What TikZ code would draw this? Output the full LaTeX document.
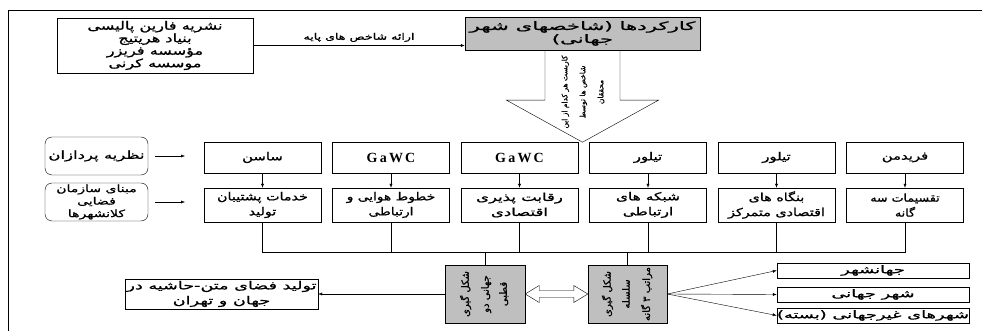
\documentclass[tikz,border=0pt]{standalone}
\usepackage{fontspec}
\usepackage{graphicx}
\usetikzlibrary{positioning,calc,arrows.meta}
\setmainfont{DejaVu Sans}
\newfontfamily\arabicfont[Script=Arabic, FakeBold=0.8]{DejaVu Sans}
\newfontfamily\gawcfont[LetterSpace=16]{Liberation Serif}
\TeXXeTstate=1
\newcommand{\fa}[2][1.35]{\hbox{\scalebox{#1}[1]{\beginR #2\endR}}}

\begin{document}
\begin{tikzpicture}[x=1pt, y=-1pt, >={Latex[length=4pt,width=3pt]},
    node distance=128.5pt, on grid,
    font=\arabicfont\fontsize{11}{15}\selectfont,
    pbox/.style={draw, align=center, inner sep=1pt},
    thbox/.style={pbox, minimum width=117pt, minimum height=31pt},
    fnbox/.style={pbox, minimum width=117pt, minimum height=34pt},
    graybox/.style={pbox, fill=gray!50, inner sep=0pt, font=\arabicfont\fontsize{10}{11}\selectfont},
    rbox/.style={pbox, rounded corners=7pt, minimum width=103pt, minimum height=38pt},
    cibox/.style={pbox, inner sep=0pt, minimum width=192pt, minimum height=15pt,
      font=\arabicfont\fontsize{10.5}{12}\selectfont},
    gawc/.style={font=\gawcfont\bfseries\fontsize{14}{16}\selectfont}]
  \useasboundingbox (0,0) rectangle (982,331);
  \draw (8,331) -- (8,10) -- (982,10);%
  \node[pbox, minimum width=196pt, minimum height=55pt, font=\arabicfont\fontsize{11.5}{12.5}\selectfont] (src) at (155,45.5)
    {\fa[1.4]{نشریه فارین پالیسی}\\\fa[1.4]{بنیاد هریتیج}\\\fa[1.4]{مؤسسه فریزر}\\\fa[1.4]{موسسه کرنی}};%
  \node[graybox, minimum width=235pt, minimum height=33pt, inner sep=1pt, font=\arabicfont\fontsize{11.5}{13}\selectfont] (func) at (582.5,33.5)
    {\fa[1.85]{کارکردها (شاخصهای شهر}\\\fa[1.85]{جهانی)}};%
  \path[->] (src.east) edge node[above, font=\arabicfont\fontsize{9}{10}\selectfont]
    {\fa[1.4]{ارائه شاخص های پایه}} (src.east -| func.west);%
  % big arrow down
  \draw ([xshift=-37.5pt]func.south) -- ++(0,50) -- ++(-38.5,0) -- ++(76,42)
    -- ++(76,-42) -- ++(-38.5,0) -- ([xshift=37.5pt]func.south);%
  \node[rotate=90, align=center, font=\arabicfont\fontsize{7.5}{18}\selectfont] (use) at (583,92)
    {\fa[1]{کاربست هر کدام از این}\\\fa[1]{شاخص ها توسط}\\\fa[1]{محققان}};%
  \node[rbox] (theory) at (96.5,156) {\fa[1.5]{نظریه پردازان}};%
  \node[rbox, font=\arabicfont\fontsize{10}{12.5}\selectfont] (basis) at (96.5,202)
    {\fa[1.4]{مبنای سازمان}\\\fa[1.4]{فضایی}\\\fa[1.4]{کلانشهرها}};%
  \coordinate (theoryend) at (185,156);%
  \coordinate (basisend) at (185,202);%
  \draw[->] ([xshift=7pt]theory.east) -- (theoryend);%
  \draw[->] ([xshift=7pt]basis.east) -- (basisend);%
  \node[thbox] (sassen) at (262.5,157.5) {\fa{ساسن}};%
  \node[thbox, gawc] (gawc1) [right=of sassen] {GaWC};%
  \node[thbox, gawc] (gawc2) [right=of gawc1] {GaWC};%
  \node[thbox] (taylor1) [right=of gawc2] {\fa{تیلور}};%
  \node[thbox] (taylor2) [right=of taylor1] {\fa{تیلور}};%
  \node[thbox] (friedmann) [right=of taylor2] {\fa{فریدمن}};%
  \node[fnbox] (service) [below=47.5pt of sassen] {\fa[1.3]{خدمات پشتیبان}\\\fa[1.3]{تولید}};%
  \node[fnbox] (airline) [below=47.5pt of gawc1] {\fa[1.25]{خطوط هوایی و}\\\fa[1.25]{ارتباطی}};%
  \node[fnbox] (compete) [below=47.5pt of gawc2] {\fa[1.5]{رقابت پذیری}\\\fa[1.5]{اقتصادی}};%
  \node[fnbox] (network) [below=47.5pt of taylor1] {\fa[1.4]{شبکه های}\\\fa[1.4]{ارتباطی}};%
  \node[fnbox] (firms) [below=47.5pt of taylor2] {\fa[1.3]{بنگاه های}\\\fa[1.3]{اقتصادی متمرکز}};%
  \node[fnbox] (division) [below=47.5pt of friedmann] {\fa[1.15]{تقسیمات سه}\\\fa[1.15]{گانه}};%
  \path[->] (sassen) edge (service) (gawc1) edge (airline) (gawc2) edge (compete)
    (taylor1) edge (network) (taylor2) edge (firms) (friedmann) edge (division);%
  \coordinate (bus) at (0,252);%
  \draw (service.south) |- (division.south |- bus) -- (division.south);%
  \draw (airline.south) -- (airline.south |- bus) (compete.south) -- (compete.south |- bus)
    (network.south) -- (network.south |- bus) (firms.south) -- (firms.south |- bus);%
  \node[graybox, minimum width=80pt, minimum height=58pt] (bipolar) at (485,294)
    {\rotatebox{90}{\begin{tabular}{@{}c@{}}\fa[1]{شکل گیری}\\[9pt]\fa[1]{جهانی دو}\\[7pt]\fa[1]{قطبی}\end{tabular}}};%
  \node[graybox, minimum width=79pt, minimum height=58pt] (hierarchy) at (627.5,294)
    {\rotatebox{90}{\begin{tabular}{@{}c@{}}\fa[1]{شکل گیری}\\[8pt]\fa[1]{سلسله}\\[8pt]\fa[1]{مراتب ۳ گانه}\end{tabular}}};%
  \draw (bipolar.north) -- (bipolar.north |- bus) (hierarchy.north) -- (hierarchy.north |- bus);%
  % hollow double arrow
  \draw (bipolar.east) -- ++(14,-8.5) -- ++(0,5) -- ($(hierarchy.west)+(-14,-3.5)$) -- ++(0,-5)
    -- (hierarchy.west) -- ++(-14,8.5) -- ++(0,-5) -- ($(bipolar.east)+(14,3.5)$) -- ++(0,5) -- cycle;%
  \node[pbox, minimum width=193pt, minimum height=30pt] (space) at (221.5,294)
    {\fa[1.6]{تولید فضای متن-حاشیه در}\\\fa[1.6]{جهان و تهران}};%
  \path[->] (bipolar) edge (space);%
  \node[cibox] (global) at (873,270.5) {\fa[1.7]{جهانشهر}};%
  \node[cibox] (world) at (873,294.5) {\fa[1.7]{شهر جهانی}};%
  \node[cibox] (closed) at (873,315.5) {\fa[1.7]{شهرهای غیرجهانی (بسته)}};%
  \path[->] (hierarchy.east) edge (global.west) edge (world.west) edge (closed.west);%
\end{tikzpicture}
\end{document}
